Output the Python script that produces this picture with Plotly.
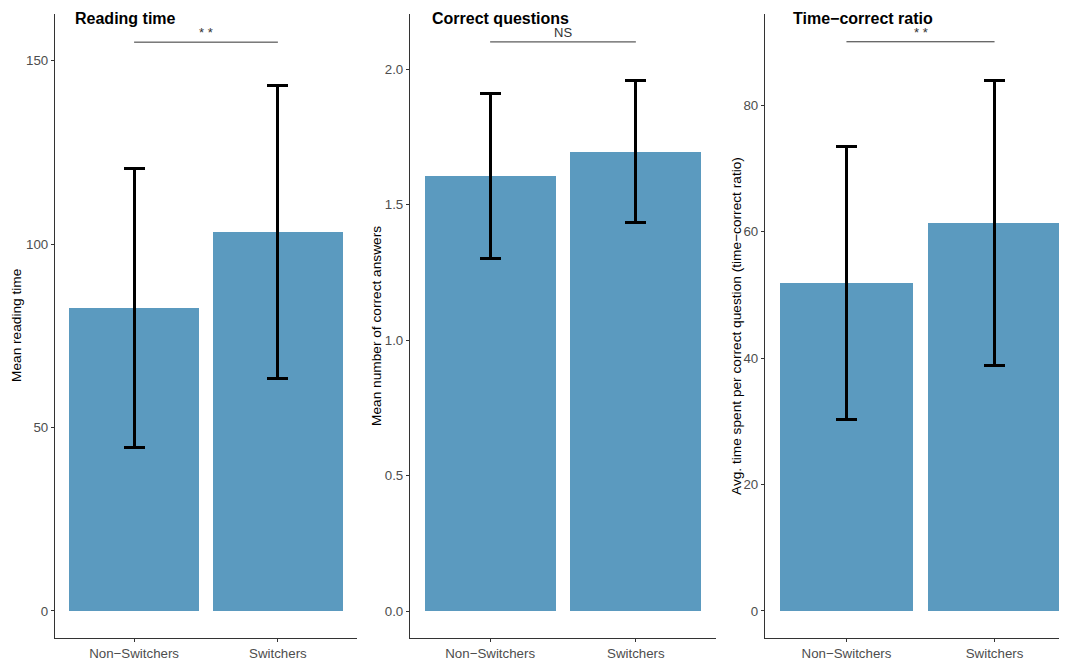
import plotly.graph_objects as go

categories = ["Non\u2212Switchers", "Switchers"]

reading_mean = [82.6, 103.3]
reading_err = [38.0, 40.0]

correct_mean = [1.605, 1.694]
correct_err = [0.306, 0.262]

ratio_mean = [51.8, 61.3]
ratio_err = [21.6, 22.5]

panel_titles = ["Reading time", "Correct questions", "Time\u2212correct ratio"]
y_titles = ["Mean reading time", "Mean number of correct answers",
            "Avg. time spent per correct question (time\u2212correct ratio)"]
sig_labels = ["* *", "NS", "* *"]
sig_y = [155.0, 2.10, 90.0]

y_ranges = [[-7.36, 162.67], [-0.0996, 2.203], [-4.27, 94.39]]
y_ticks = [[0, 50, 100, 150], [0, 0.5, 1.0, 1.5, 2.0], [0, 20, 40, 60, 80]]
y_fmt = ["d", ".1f", "d"]

# page places the figure 8px from the top-left corner of the window;
# the right-most panel runs slightly past the window edge, as in the reference
OFF = 8
W, H = 1080, 661 - OFF
x_px = [(55, 357), (410, 716), (765, 1076)]
title_x_px = [73, 430, 791]
ytitle_x_px = [16, 376, 736]
y_top_px, y_bot_px = 14, 638


def fx(p):
    return (p - OFF) / W


def fy(p):
    return 1 - (p - OFF) / H


BAR_COLOR = "#5B9ABF"
TEXT = "#4D4D4D"
FONT = "Liberation Sans, Arial"

fig = go.Figure()
means = [reading_mean, correct_mean, ratio_mean]
errs = [reading_err, correct_err, ratio_err]

ydom = [fy(y_bot_px), fy(y_top_px)]
for i in range(3):
    sfx = "" if i == 0 else str(i + 1)
    fig.add_trace(go.Bar(
        x=categories, y=means[i], width=0.9,
        marker=dict(color=BAR_COLOR, line=dict(width=0)),
        error_y=dict(type="data", array=errs[i], visible=True,
                     color="black", thickness=3, width=10.5),
        xaxis="x" + sfx, yaxis="y" + sfx, showlegend=False,
    ))
    xd = [max(0.0, fx(x_px[i][0])), min(1.0, fx(x_px[i][1]))]
    fig.layout["xaxis" + sfx] = dict(
        domain=xd, type="category", range=[-0.55, 1.55], anchor="y" + sfx,
        showline=True, linecolor="#333333", linewidth=1.2,
        ticks="outside", ticklen=3, tickcolor="#333333", tickwidth=1,
        tickfont=dict(family=FONT, size=13.3, color=TEXT),
        showgrid=False, zeroline=False, fixedrange=True,
    )
    fig.layout["yaxis" + sfx] = dict(
        domain=ydom, range=y_ranges[i], anchor="x" + sfx,
        tickvals=y_ticks[i], tickformat=y_fmt[i],
        showline=True, linecolor="#333333", linewidth=1.2,
        ticks="outside", ticklen=3, tickcolor="#333333", tickwidth=1,
        tickfont=dict(family=FONT, size=13.3, color=TEXT),
        showgrid=False, zeroline=False, fixedrange=True,
    )
    # significance bracket
    fig.add_shape(type="line", xref="x" + sfx, yref="y" + sfx,
                  x0=0, x1=1, y0=sig_y[i], y1=sig_y[i],
                  line=dict(color="#333333", width=1))
    fig.add_annotation(xref="x" + sfx, yref="y" + sfx, x=0.5, y=sig_y[i],
                       text=sig_labels[i], showarrow=False, yanchor="bottom",
                       yshift=0,
                       font=dict(family=FONT, size=13, color="#333333"))
    # panel title
    fig.add_annotation(xref="paper", yref="paper", x=fx(title_x_px[i]),
                       y=fy(19), text="<b>" + panel_titles[i] + "</b>",
                       showarrow=False, xanchor="left", yanchor="middle",
                       font=dict(family=FONT, size=16, color="black"))
    # y-axis title
    fig.add_annotation(xref="paper", yref="paper", x=fx(ytitle_x_px[i]),
                       y=fy(326), text=y_titles[i], textangle=-90,
                       showarrow=False, xanchor="center", yanchor="middle",
                       font=dict(family=FONT, size=13.7, color="black"))

fig.update_layout(
    width=W, height=H, margin=dict(l=0, r=0, t=0, b=0),
    paper_bgcolor="white", plot_bgcolor="white", bargap=0,
)

fig.write_html("out.html")
